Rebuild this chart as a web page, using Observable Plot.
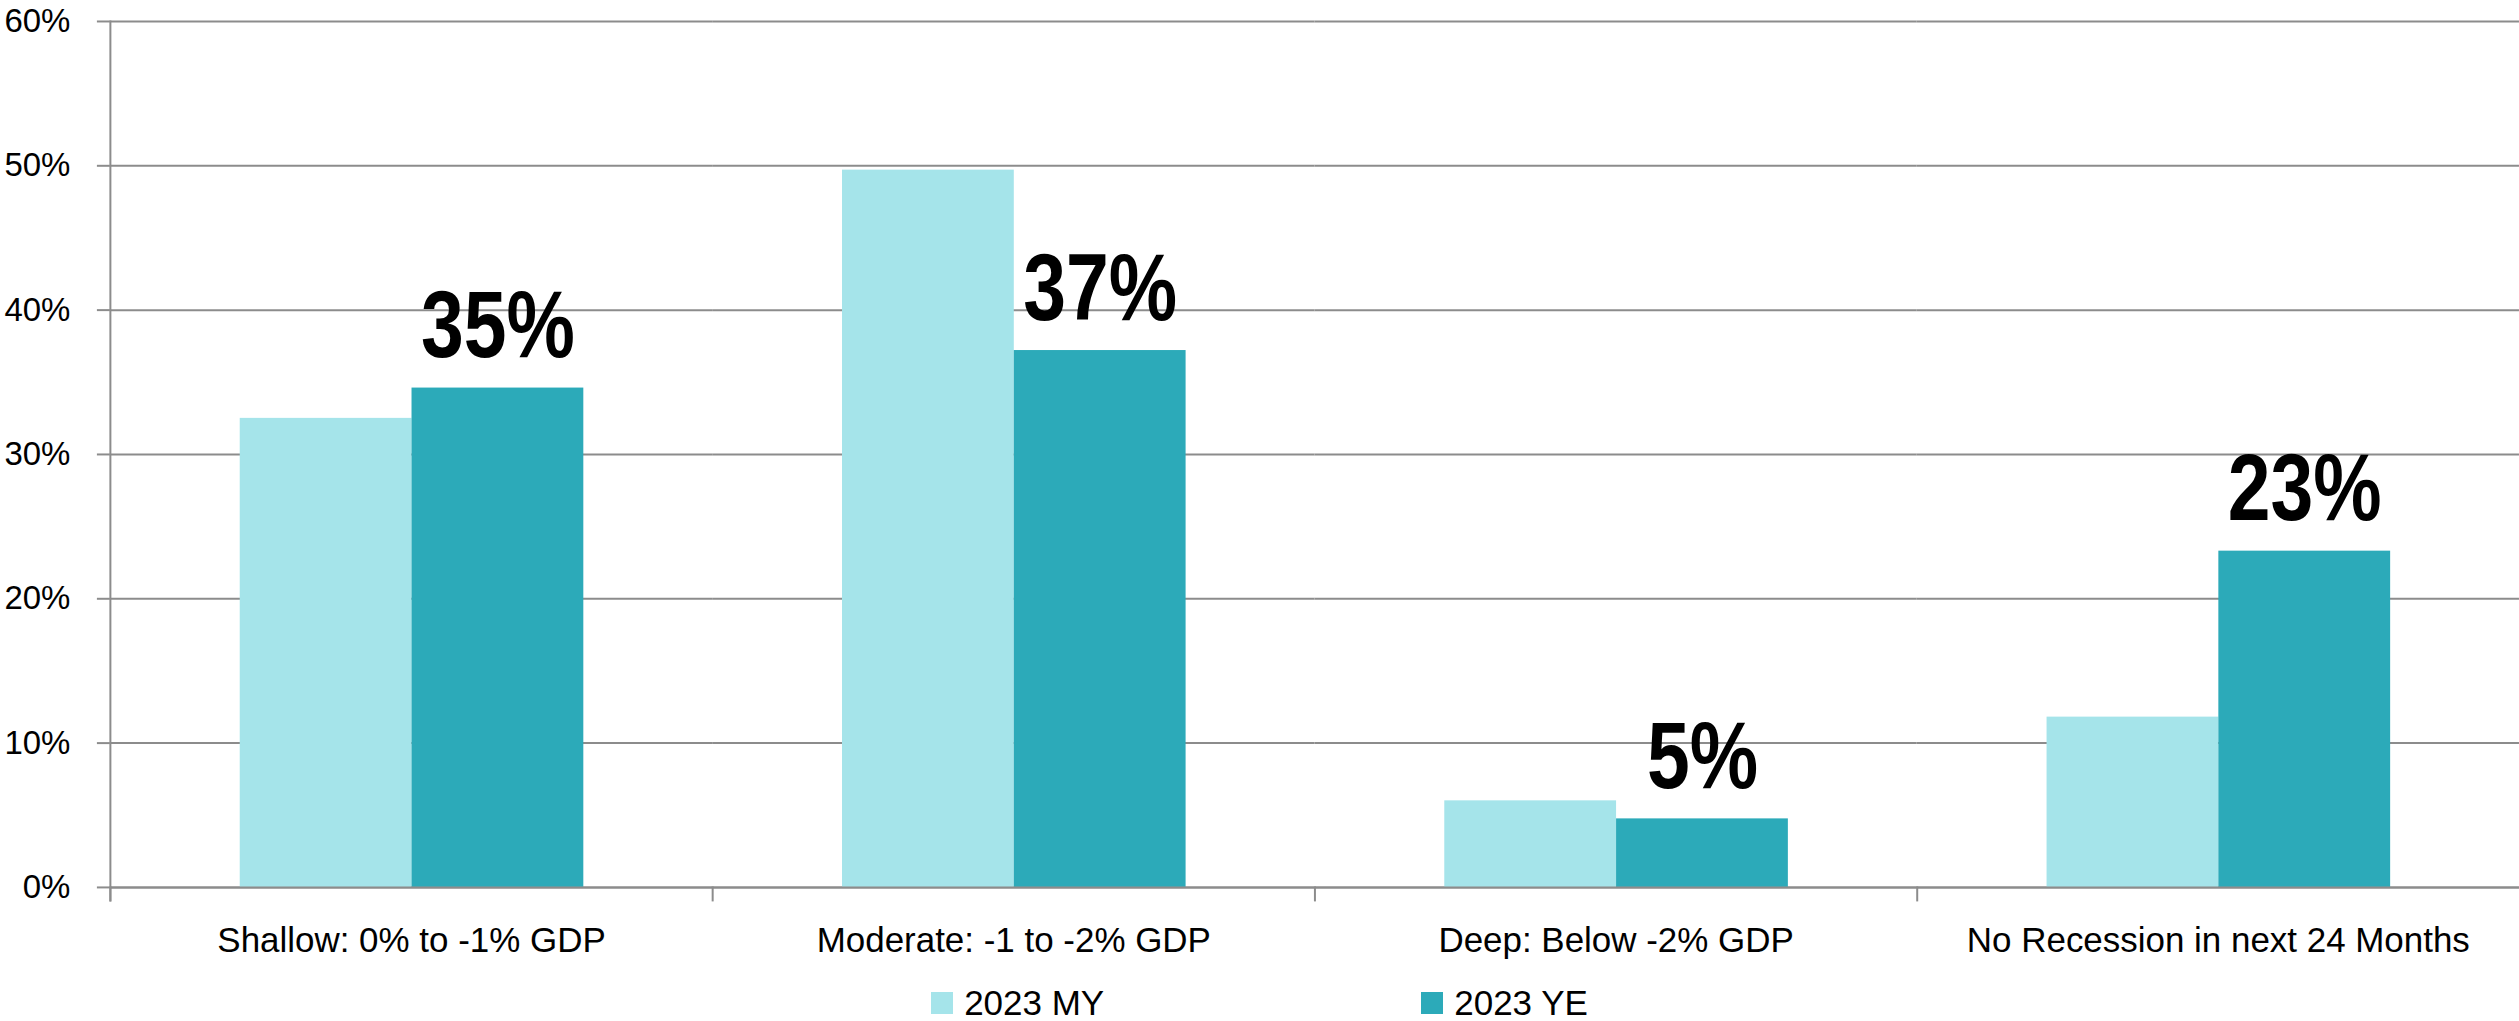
<!DOCTYPE html>
<html><head><meta charset="utf-8">
<script src="https://cdn.jsdelivr.net/npm/d3@7"></script>
<script src="https://cdn.jsdelivr.net/npm/@observablehq/plot@0.6"></script>
<style>
html,body{margin:0;padding:0;background:#fff;overflow:hidden;}
#chart svg{display:block;}
.legend{display:flex;justify-content:center;gap:317px;padding-top:11px;font-family:"Liberation Sans",Arial,sans-serif;font-size:35px;line-height:35px;color:#000;}
.item{display:flex;align-items:flex-start;}
.sw{width:22px;height:22px;margin-top:7px;margin-right:11px;}
</style></head><body>
<div id="chart"></div>
<div class="legend" id="legend"></div>
<script>
const categories = ["Shallow: 0% to -1% GDP", "Moderate: -1 to -2% GDP", "Deep: Below -2% GDP", "No Recession in next 24 Months"];
const series = ["2023 MY", "2023 YE"];
const valuesMY = [32.5, 49.7, 6.0, 11.8];
const valuesYE = [34.6, 37.2, 4.75, 23.3];
const labelsYE = ["35%", "37%", "5%", "23%"];
const colors = ["#a5e4ea", "#2caab9"];
const yTicks = [0, 10, 20, 30, 40, 50, 60];

const data = categories.flatMap((c, i) => [
  {category: c, series: series[0], value: valuesMY[i], label: null},
  {category: c, series: series[1], value: valuesYE[i], label: labelsYE[i]}
]);

const gray = "#8c8c8c";
const W = 2522, H = 975, mT = 21, mB = 87;
const plot = Plot.plot({
  width: W, height: H,
  marginTop: mT, marginBottom: mB, marginLeft: 110, marginRight: 0,
  style: {fontFamily: "'Liberation Sans', Arial, sans-serif", background: "white", color: "black"},
  fx: {domain: categories, padding: 0, label: null, axis: null},
  x: {domain: series, paddingInner: 0, paddingOuter: 0.75, axis: null},
  y: {domain: [0, 60], label: null, axis: null},
  color: {domain: series, range: colors},
  marks: [
    Plot.gridY(yTicks, {stroke: gray, strokeOpacity: 1, strokeWidth: 2}),
    Plot.barY(data, {fx: "category", x: "series", y: "value", fill: "series"}),
    Plot.ruleY([0], {stroke: gray, strokeWidth: 2}),
    Plot.frame({anchor: "left", stroke: gray, strokeWidth: 2, insetTop: H - mT - mB, insetBottom: -13}),
    Plot.frame({anchor: "left", stroke: gray, strokeWidth: 2, facet: "super", insetBottom: -13}),
    Plot.axisY(yTicks, {tickSize: 13, tickPadding: 27, stroke: gray, strokeWidth: 2, fill: "black", fontSize: 33, tickFormat: d => d + "%", label: null}),
    Plot.axisFx({anchor: "bottom", tickSize: 0, tickPadding: 40, fontSize: 35, fill: "black", label: null}),
    Plot.text(data.filter(d => d.label), {fx: "category", x: "series", y: "value", text: "label", lineAnchor: "bottom", dy: -31, fontSize: 95, fontWeight: "bold", fontFamily: "'Liberation Sans Narrow', 'Arial Narrow', 'Liberation Sans', sans-serif", fill: "black"})
  ]
});
document.getElementById("chart").appendChild(plot);

// condense the bold value labels horizontally about their anchor point
function condense(selector, s) {
  d3.select(plot).selectAll(selector).each(function () {
    const el = d3.select(this);
    const x = +(el.attr("x") || 0);
    const t = el.attr("transform") || "";
    el.attr("transform", `${t} translate(${x},0) scale(${s},1) translate(${-x},0)`.trim());
  });
}
condense('g[aria-label="text"] text', 0.81);

const legend = document.getElementById("legend");
series.forEach((s, i) => {
  const item = document.createElement("div");
  item.className = "item";
  const sw = document.createElement("span");
  sw.className = "sw";
  sw.style.background = colors[i];
  const t = document.createElement("span");
  t.textContent = s;
  item.appendChild(sw); item.appendChild(t);
  legend.appendChild(item);
});
</script>
</body></html>
